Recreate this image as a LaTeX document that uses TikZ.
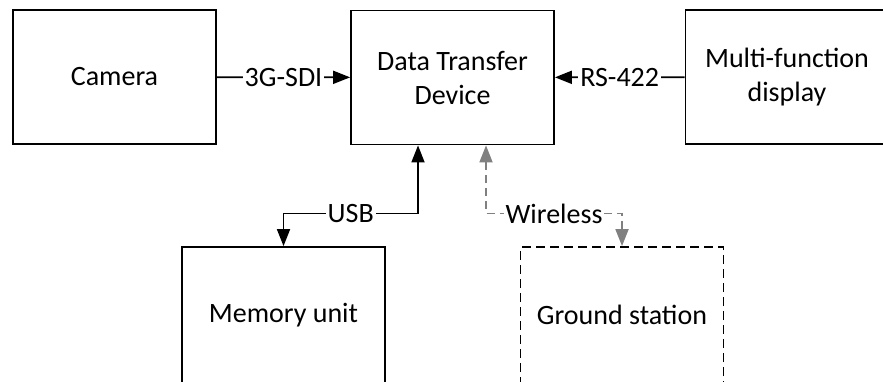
\documentclass[tikz,border=0pt]{standalone}
\usepackage{fontspec}
\setmainfont{Carlito}
\usetikzlibrary{arrows.meta}

\begin{document}
\begin{tikzpicture}[x=1pt,y=-1pt,line width=1.8pt,>={Triangle[length=17pt,width=13pt]},
  block/.style={draw,minimum width=203pt,minimum height=134pt,inner sep=0pt,align=center,font=\fontsize{28}{34}\selectfont},
  lbl/.style={fill=white,inner sep=2pt,font=\fontsize{28}{34}\selectfont},
  radio/.style={gray,dash pattern=on 8pt off 5pt}]
\useasboundingbox (0,0) rectangle (883,381);
\clip (0,0) rectangle (883,381);
% ---------- top row ----------
\node[block] (cam) at (114.5,77) {Camera};
\node[block] (dtd) at (452.5,77.5) {Data Transfer\\Device};
\node[block] (mfd) at (787,77) {Multi-function\\display};
% ---------- bottom row (cut by the page edge) ----------
\node[block,minimum height=136pt] (mem) at (283.5,315) {Memory unit};
\node[block,minimum height=136pt,dash pattern=on 9pt off 5pt] (gnd) at (622,315) {Ground station};
% links
\draw[->] (cam) -- node[lbl]{3G-SDI} (dtd);
\draw[->] (mfd) -- node[lbl]{RS-422} (dtd);
\draw[<->] ([xshift=-34.5pt]dtd.south) -- ++(0,68) -| node[lbl,pos=0.25]{USB} (mem.north);
\draw[<->,radio] ([xshift=33.5pt]dtd.south) -- ++(0,68) -| node[lbl,pos=0.25,text=black]{Wireless} (gnd.north);
\end{tikzpicture}
\end{document}
